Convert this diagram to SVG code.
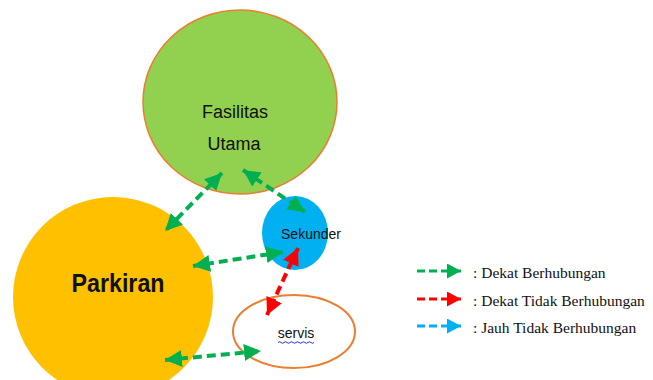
<svg xmlns="http://www.w3.org/2000/svg" width="653" height="380" viewBox="0 0 653 380">
<style>
.lbl{font-family:"Liberation Sans",Arial,sans-serif;fill:#111;text-anchor:middle}
.leg{font-family:"Liberation Serif","Times New Roman",serif;font-size:15.5px;fill:#111}
.g{stroke:#00B050;stroke-width:4;stroke-dasharray:9 5;fill:none}
.r{stroke:#FF0000;stroke-width:4;stroke-dasharray:9 5;fill:none}
.b{stroke:#00B0F0;stroke-width:4;stroke-dasharray:9 5;fill:none}
.lg{stroke-width:3;stroke-dasharray:8 4}
</style>
<defs>
<marker id="ag" markerUnits="userSpaceOnUse" markerWidth="18" markerHeight="18" refX="17" refY="8.5" orient="auto-start-reverse"><path d="M0,0 L17,8.5 L0,17 z" fill="#00B050"/></marker>
<marker id="ar" markerUnits="userSpaceOnUse" markerWidth="18" markerHeight="18" refX="17" refY="8.5" orient="auto-start-reverse"><path d="M0,0 L17,8.5 L0,17 z" fill="#FF0000"/></marker>
<marker id="lgg" markerUnits="userSpaceOnUse" markerWidth="16" markerHeight="16" refX="14" refY="7.5" orient="auto"><path d="M0,0 L14,7.5 L0,15 z" fill="#00B050"/></marker>
<marker id="lgr" markerUnits="userSpaceOnUse" markerWidth="16" markerHeight="16" refX="14" refY="7.5" orient="auto"><path d="M0,0 L14,7.5 L0,15 z" fill="#FF0000"/></marker>
<marker id="lgb" markerUnits="userSpaceOnUse" markerWidth="16" markerHeight="16" refX="14" refY="7.5" orient="auto"><path d="M0,0 L14,7.5 L0,15 z" fill="#00B0F0"/></marker>
</defs>
<rect width="653" height="380" fill="#fff"/>
<g id="fasilitas">
<ellipse cx="240" cy="102" rx="97" ry="92" fill="#92D050" stroke="#ED7D31" stroke-width="1.5"/>
<text class="lbl" x="235" y="118" font-size="18">Fasilitas</text>
<text class="lbl" x="234" y="150" font-size="18">Utama</text>
</g>
<g id="parkiran">
<circle cx="113" cy="297" r="100" fill="#FFC000"/>
<text class="lbl" x="118" y="292" font-size="25" font-weight="bold" textLength="93" lengthAdjust="spacingAndGlyphs">Parkiran</text>
</g>
<g id="sekunder">
<ellipse cx="295" cy="233" rx="33" ry="37" fill="#00B0F0"/>
<text class="lbl" x="311" y="239" font-size="14">Sekunder</text>
</g>
<g id="servis">
<ellipse cx="294" cy="331.5" rx="61" ry="36.5" fill="#fff" stroke="#ED7D31" stroke-width="2"/>
<text class="lbl" x="296" y="338" font-size="14">servis</text>
<path d="M278,342.5 q1.5,-1.5 3,0 t3,0 t3,0 t3,0 t3,0 t3,0 t3,0 t3,0 t3,0 t3,0 t3,0 t3,0" fill="none" stroke="#2233DD" stroke-width="1"/>
</g>
<g id="connectors">
<line class="g" x1="222" y1="173" x2="165" y2="231" marker-start="url(#ag)" marker-end="url(#ag)"/>
<line class="g" x1="243" y1="170" x2="305" y2="212" marker-start="url(#ag)" marker-end="url(#ag)"/>
<line class="g" x1="283" y1="252" x2="193" y2="266" marker-start="url(#ag)" marker-end="url(#ag)"/>
<line class="r" x1="298" y1="248" x2="267" y2="315" marker-start="url(#ar)" marker-end="url(#ar)"/>
<line class="g" x1="165" y1="360" x2="261" y2="351" marker-start="url(#ag)" marker-end="url(#ag)"/>
</g>
<g id="legend">
<line class="g lg" x1="417" y1="271" x2="461" y2="271" marker-end="url(#lgg)"/>
<line class="r lg" x1="417" y1="299" x2="461" y2="299" marker-end="url(#lgr)"/>
<line class="b lg" x1="417" y1="326" x2="461" y2="326" marker-end="url(#lgb)"/>
<text class="leg" x="473" y="278">: Dekat Berhubungan</text>
<text class="leg" x="473" y="306">: Dekat Tidak Berhubungan</text>
<text class="leg" x="473" y="333">: Jauh Tidak Berhubungan</text>
</g>
</svg>
